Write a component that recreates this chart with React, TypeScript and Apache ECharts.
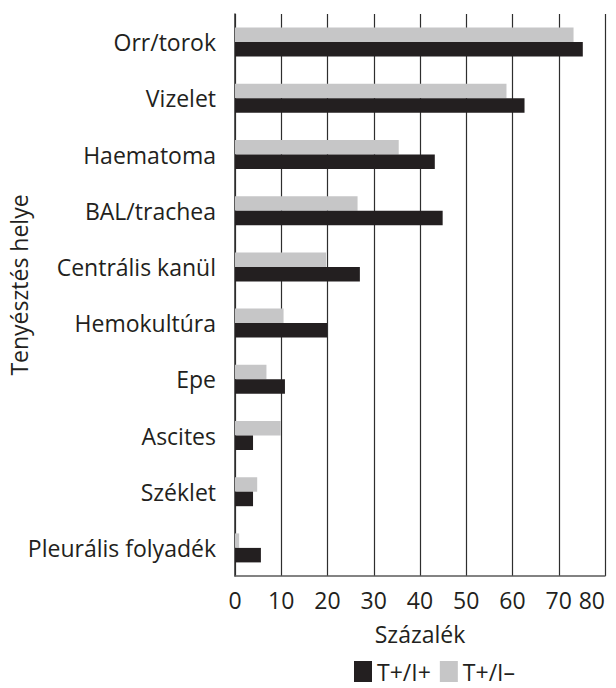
import React, { useEffect, useRef } from "react";
import * as echarts from "echarts";

const categories = [
  "Orr/torok",
  "Vizelet",
  "Haematoma",
  "BAL/trachea",
  "Centrális kanül",
  "Hemokultúra",
  "Epe",
  "Ascites",
  "Széklet",
  "Pleurális folyadék",
];
const positiveValues = [75.2, 62.6, 43.2, 44.9, 27.0, 19.9, 10.8, 3.9, 3.9, 5.6];
const negativeValues = [73.2, 58.7, 35.4, 26.5, 19.7, 10.5, 6.8, 9.9, 4.8, 0.9];
const seriesNames = ["T+/I+", "T+/I–"];
const xTicks = { min: 0, max: 80, interval: 10 };
const xName = "Százalék";
const yName = "Tenyésztés helye";

const FONT = "'Open Sans', sans-serif";
const FS = 23;

export default function App() {
  const ref = useRef<HTMLDivElement>(null);
  useEffect(() => {
    if (!ref.current) return;
    const chart = echarts.init(ref.current, undefined, { renderer: "svg" });
    chart.setOption({
      animation: false,
      backgroundColor: "#ffffff",
      textStyle: { fontFamily: FONT, color: "#231f20" },
      grid: { left: 235, right: 11, top: 14, bottom: 112, containLabel: false, outerBoundsMode: "none" },
      legend: {
        data: [seriesNames[0], seriesNames[1]],
        left: 349,
        top: 655,
        itemWidth: 18,
        itemHeight: 21,
        itemGap: 9,
        icon: "rect",
        textStyle: { fontFamily: FONT, fontSize: FS, lineHeight: 20, color: "#231f20" },
      },
      xAxis: {
        type: "value",
        min: xTicks.min,
        max: xTicks.max,
        interval: xTicks.interval,
        name: xName,
        nameLocation: "middle",
        nameGap: 46,
        nameMoveOverlap: false,
        nameTextStyle: { fontFamily: FONT, fontSize: FS, color: "#231f20" },
        axisLine: { show: true, lineStyle: { color: "#5a5a5a", width: 1.5 } },
        axisTick: { show: false },
        axisLabel: { fontFamily: FONT, fontSize: FS, color: "#231f20", margin: 12, alignMaxLabel: "right" },
        splitLine: { show: true, lineStyle: { color: "#2e2e2e", width: 1.2 } },
      },
      yAxis: {
        type: "category",
        data: categories,
        inverse: true,
        name: yName,
        nameLocation: "middle",
        nameGap: 205,
        nameRotate: 90,
        nameMoveOverlap: false,
        nameTextStyle: { fontFamily: FONT, fontSize: FS, color: "#231f20", padding: [0, 0, 0, 20] },
        axisLine: { show: true, lineStyle: { color: "#2e2e2e", width: 1.5 } },
        axisTick: { show: false },
        axisLabel: { fontFamily: FONT, fontSize: FS, color: "#231f20", margin: 19 },
        splitLine: { show: false },
      },
      series: [
        {
          name: seriesNames[1],
          type: "bar",
          data: negativeValues,
          barWidth: 14.5,
          barGap: "0%",
          itemStyle: { color: "#c6c6c7" },
        },
        {
          name: seriesNames[0],
          type: "bar",
          data: positiveValues,
          barWidth: 14.5,
          barGap: "0%",
          itemStyle: { color: "#231f20" },
        },
      ],
    });
    return () => chart.dispose();
  }, []);
  return <div ref={ref} style={{ width: 616, height: 688, position: "absolute", left: 0, top: 0 }} />;
}
